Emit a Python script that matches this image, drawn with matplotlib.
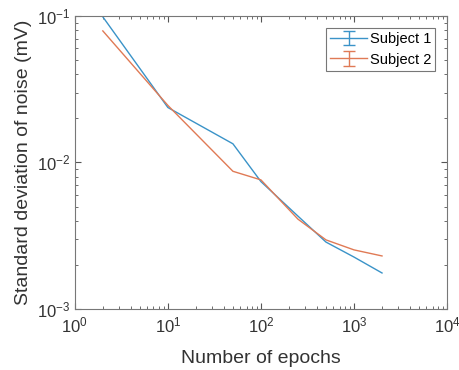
import numpy as np
import matplotlib
matplotlib.use("Agg")
import matplotlib.pyplot as plt

plt.rcParams['font.family'] = ['Liberation Sans', 'DejaVu Sans']

# Number of epochs averaged and resulting noise std (mV)
epochs = np.array([2, 10, 50, 100, 250, 500, 1000, 2000])
subj1 = np.array([0.0985, 0.0237, 0.0134, 0.0074, 0.0043, 0.00286, 0.00226, 0.00176])
subj2 = np.array([0.079, 0.0245, 0.0087, 0.0076, 0.0041, 0.00296, 0.00253, 0.0023])

labels = ["Subject 1", "Subject 2"]
colors = ["#3a93c8", "#e07a55"]

fig = plt.figure(figsize=(4.59, 3.70), dpi=100)
ax = fig.add_axes([0.163, 0.165, 0.811, 0.792])

hnd = []
for y, c, lab in zip([subj1, subj2], colors, labels):
    ax.plot(epochs, y, color=c, lw=1.0)
    # error bars are too small to see, only the legend shows the cap glyph
    hnd.append(ax.errorbar([np.nan], [np.nan], yerr=[1.], color=c, lw=1.0,
                           capsize=4, elinewidth=1.0, label=lab))

ax.set_xscale('log')
ax.set_yscale('log')
ax.set_xlim(1, 1e4)
ax.set_ylim(1e-3, 1e-1)
ax.set_xticks([1, 10, 100, 1000, 10000])
ax.set_yticks([1e-3, 1e-2, 1e-1])

ax.tick_params(which='both', direction='in', top=True, right=True, colors='#555555',
               labelcolor='#333333', labelsize=12)
ax.tick_params(axis='x', which='both', pad=5)
ax.tick_params(which='major', length=4)
ax.tick_params(which='minor', length=2)
for s in ax.spines.values():
    s.set_color('#777777')
    s.set_linewidth(0.8)

ax.set_xlabel("Number of epochs", fontsize=14, color='#333333')
ax.set_ylabel("Standard deviation of noise (mV)", fontsize=14, color='#333333')
ax.xaxis.set_label_coords(0.5, -0.14)
ax.yaxis.set_label_coords(-0.115, 0.5)

leg = ax.legend(handles=hnd, loc='upper right', fontsize=10.5, fancybox=False,
                edgecolor='#555555', borderaxespad=0.8, handlelength=2.5,
                borderpad=0.3, labelspacing=0.45, handletextpad=0.2)
leg.get_frame().set_linewidth(0.8)

fig.savefig("out.png", dpi=100, facecolor='white')
